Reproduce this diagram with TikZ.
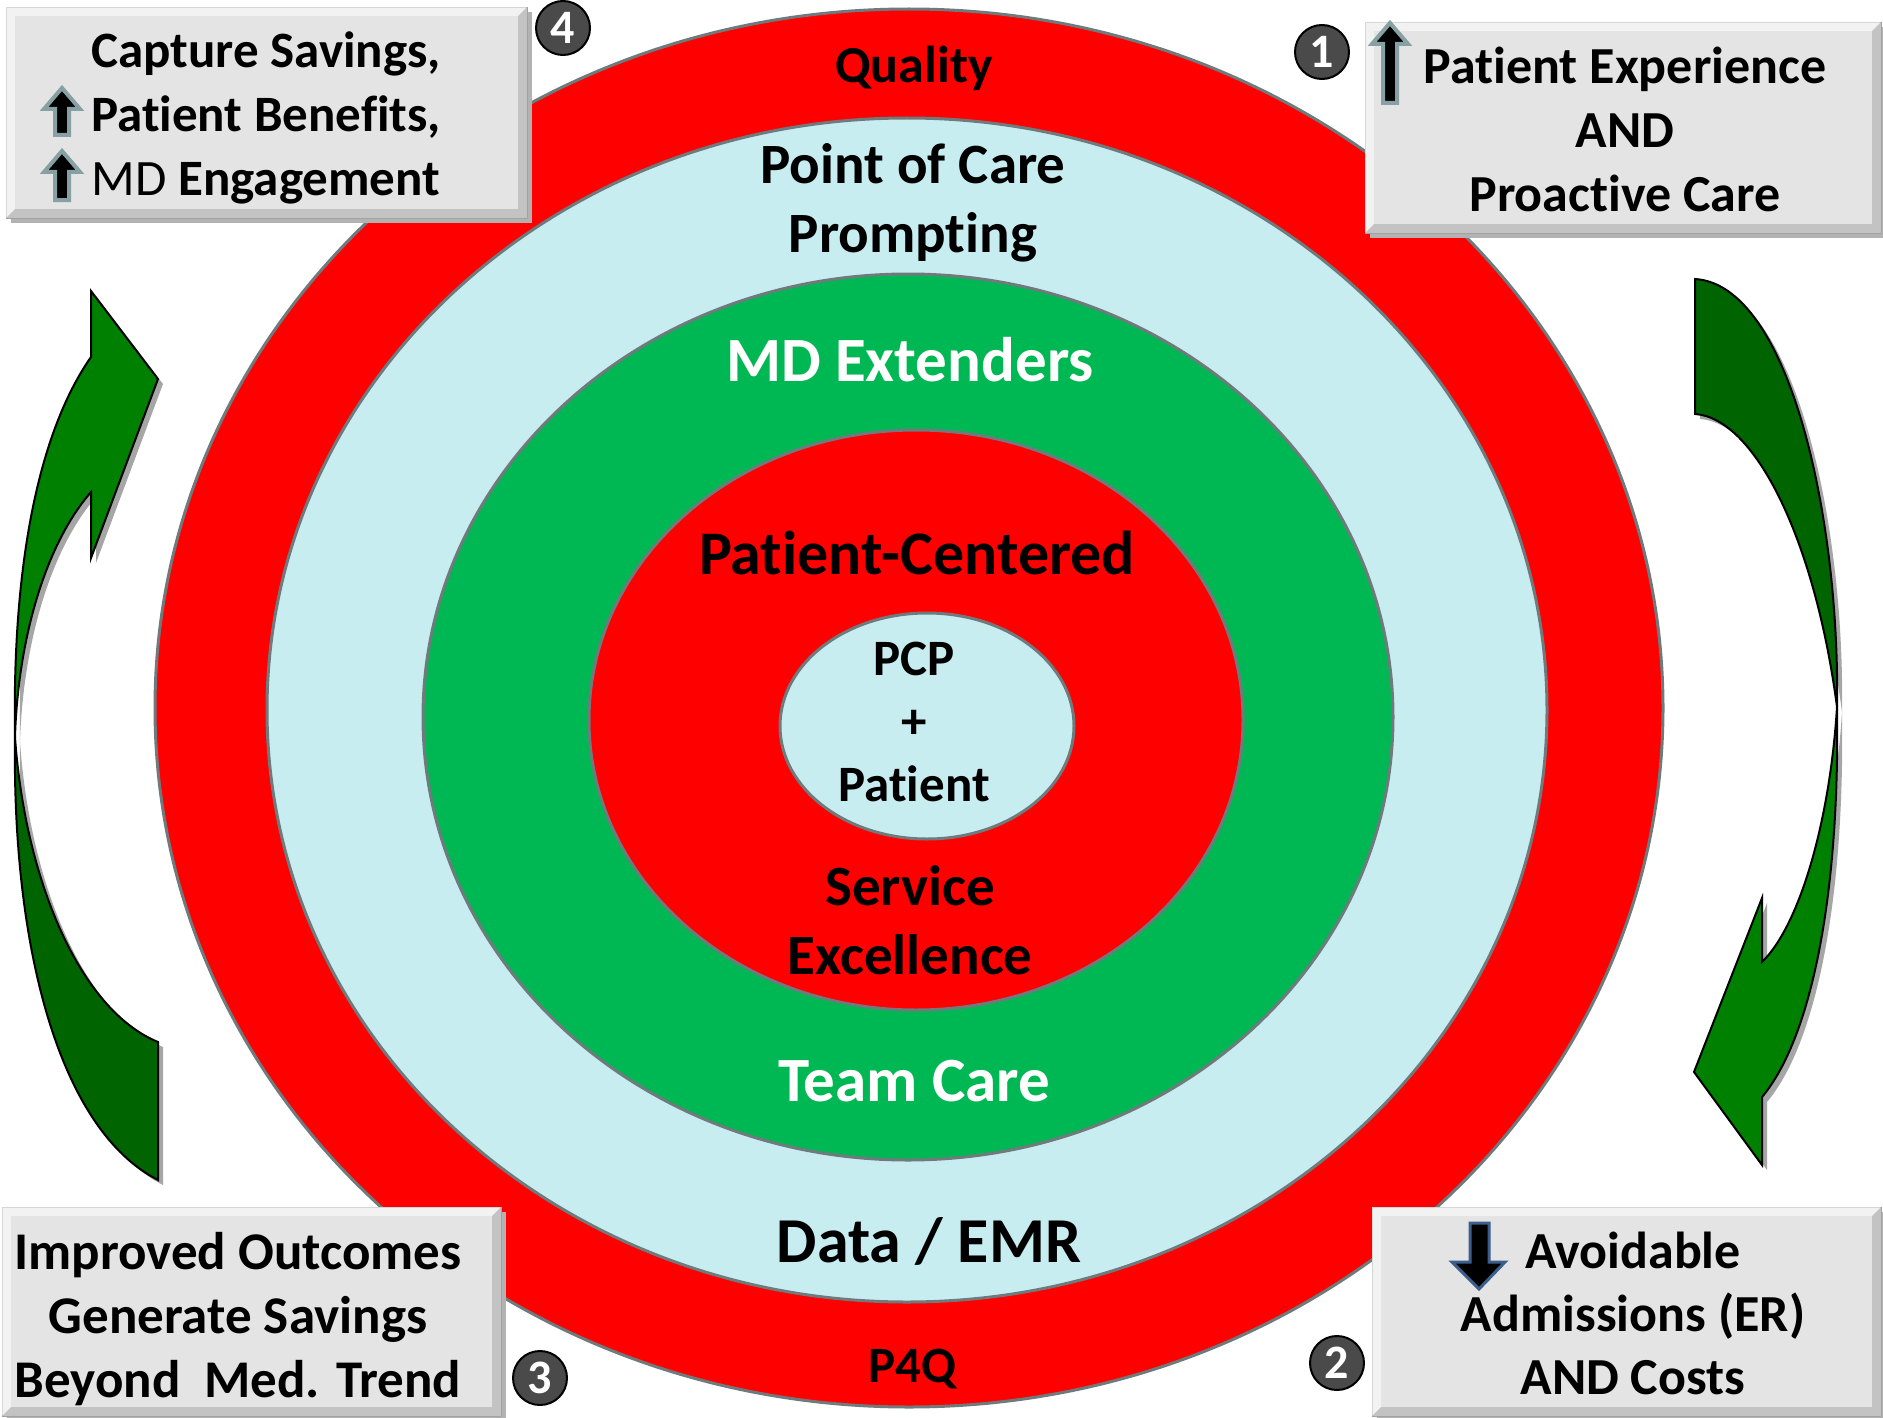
\documentclass[tikz,border=0pt]{standalone}
\usepackage{fontspec}
\setmainfont{Carlito}[Ligatures=NoCommon]
\usetikzlibrary{shadows}

\definecolor{ringred}{HTML}{FF0000}
\definecolor{ringblue}{HTML}{C8EDF1}
\definecolor{ringgreen}{HTML}{00B853}
\definecolor{ringedge}{HTML}{6F7A7D}
\definecolor{boxgray}{HTML}{E4E4E4}
\definecolor{arrowlight}{HTML}{008000}
\definecolor{arrowdark}{HTML}{006400}
\definecolor{upedge}{HTML}{86A0A4}
\definecolor{downedge}{HTML}{3B5E8C}
\definecolor{badgegray}{HTML}{4A4A4A}

\tikzset{
  ring/.style={draw=ringedge, line width=3pt},
  ringtext/.style={align=center, inner sep=0pt},
  badge/.style={circle, fill=badgegray, draw=black, line width=2pt, minimum size=54pt,
    inner sep=0pt, text=white, font=\bfseries\fontsize{48}{48}\selectfont},
  turnlight/.style={fill=arrowlight, draw=black, line width=2pt,
    drop shadow={shadow xshift=5pt, shadow yshift=-5pt, fill=gray!70, opacity=1}},
  turndark/.style={fill=arrowdark, draw=black, line width=2pt,
    drop shadow={shadow xshift=5pt, shadow yshift=-5pt, fill=gray!70, opacity=1}},
  upmark/.style={fill=black, draw=upedge, line width=4pt},
  downmark/.style={fill=black, draw=downedge, line width=3pt},
}

\newcommand{\ringfont}[2]{\bfseries\fontsize{#1}{#2}\selectfont}

% bevelled grey panel: x1, y1, x2, y2
\newcommand{\panel}[4]{
  \fill[gray!60] (#1+5,#2+5) rectangle (#3+5,#4+5);
  \filldraw[fill=boxgray, draw=gray!70] (#1,#2) rectangle (#3,#4);
  \fill[white, opacity=.55] (#1,#2) -- (#3,#2) -- (#3-9,#2+9) -- (#1+9,#2+9) -- (#1+9,#4-9) -- (#1,#4) -- cycle;
  \fill[black, opacity=.14] (#3,#4) -- (#1,#4) -- (#1+9,#4-9) -- (#3-9,#4-9) -- (#3-9,#2+9) -- (#3,#2) -- cycle;
}

% small up arrow: centre x, tip y, foot y
\newcommand{\uparrowmark}[3]{
  \filldraw[upmark] (#1-7,#3-2) -- (#1-7,#2+24) -- (#1-18,#2+24) -- (#1,#2+3)
    -- (#1+18,#2+24) -- (#1+7,#2+24) -- (#1+7,#3-2) -- cycle;
}

\begin{document}
\begin{tikzpicture}[x=1pt, y=-1pt]
	\useasboundingbox (0,0) rectangle (1883,1418);
	\fill[white] (0,0) rectangle (1883,1418);
	
	% Rings, outside in
	\filldraw[ring, fill=ringred] (909,708) ellipse [x radius=754, y radius=699];
	\filldraw[ring, fill=ringblue] (907,710) ellipse [x radius=640, y radius=592];
	\filldraw[ring, fill=ringgreen] (908,717) ellipse [x radius=485, y radius=443];
	\filldraw[ring, fill=ringred] (916,720) ellipse [x radius=327, y radius=290];
	\filldraw[ring, fill=ringblue] (927,726) ellipse [x radius=147, y radius=113];
	
	% Ring labels
	\node[ringtext, anchor=base, font=\ringfont{52}{62}] (quality) at (914,83) {Quality};
	\node[ringtext, font=\ringfont{57}{69}] (prompting) at (913,203) {Point of Care\\Prompting};
	\node[ringtext, anchor=base, text=white, font=\ringfont{63}{75}] (extenders) at (910,381) {MD Extenders};
	\node[ringtext, anchor=base, font=\ringfont{62}{74}] (centered) at (917,574) {Patient-Centered};
	\node[ringtext, font=\ringfont{51}{63}] (core) at (914,722) {PCP\\+\\Patient};
	\node[ringtext, font=\ringfont{57}{69}] (service) at (910,920) {Service\\Excellence};
	\node[ringtext, anchor=base, text=white, font=\ringfont{63}{75}] (teamcare) at (914,1101) {Team Care};
	\node[ringtext, anchor=base, font=\ringfont{64}{76}] (emr) at (929,1262) {Data / EMR};
	\node[ringtext, anchor=base, font=\ringfont{51}{61}] (pfq) at (912,1382) {P4Q};
	
	% Left turning arrow (upwards)
	\filldraw[turndark] (15,737) .. controls (12,950) and (60,1130) .. (158,1180)
		-- (158,1042) .. controls (80,1010) and (25,880) .. (15,737) -- cycle;
	\filldraw[turnlight] (91,357) -- (91,291) -- (158,379) -- (91,558) -- (91,492)
		.. controls (45,545) and (18,640) .. (15,737)
		.. controls (12,560) and (40,430) .. (91,357) -- cycle;
	
	% Right turning arrow (downwards)
	\filldraw[turndark] (1695,279) .. controls (1790,285) and (1840,520) .. (1837,707)
		.. controls (1815,540) and (1755,418) .. (1695,414) -- cycle;
	\filldraw[turnlight] (1837,707) .. controls (1840,900) and (1810,1040) .. (1762,1097)
		-- (1762,1165) -- (1694,1072) -- (1762,898) -- (1762,962)
		.. controls (1800,925) and (1830,820) .. (1837,707) -- cycle;
	
	% Corner panels
	\panel{6}{7}{527}{218}
	\panel{1365}{22}{1881}{233}
	\panel{2}{1207}{501}{1416}
	\panel{1372}{1207}{1881}{1416}
	
	\node[ringtext, font=\ringfont{51}{64}] (savings) at (266,118)
		{Capture Savings,\\Patient Benefits,\\{\mdseries MD} Engagement};
	\uparrowmark{62}{85}{137}
	\uparrowmark{62}{148}{202}
	
	\node[ringtext, font=\ringfont{52}{64}] (experience) at (1625,129)
		{Patient Experience\\AND\\Proactive Care};
	\uparrowmark{1390}{20}{105}
	
	\node[ringtext, font=\ringfont{53}{64}] (outcomes) at (238,1319)
		{Improved Outcomes\\Generate Savings\\Beyond~~Med. Trend};
	
	\node[ringtext, font=\ringfont{52}{63}] (admissions) at (1633,1313)
		{Avoidable\\Admissions (ER)\\AND Costs};
	\filldraw[downmark] (1470,1223) -- (1489,1223) -- (1489,1262) -- (1505,1262) -- (1479,1289)
		-- (1452,1262) -- (1470,1262) -- cycle;
	
	% Step numbers
	\node[badge] (step1) at (1322,52) {1};
	\node[badge] (step2) at (1337,1363) {2};
	\node[badge] (step3) at (540,1378) {3};
	\node[badge] (step4) at (563,28) {4};
\end{tikzpicture}
\end{document}
